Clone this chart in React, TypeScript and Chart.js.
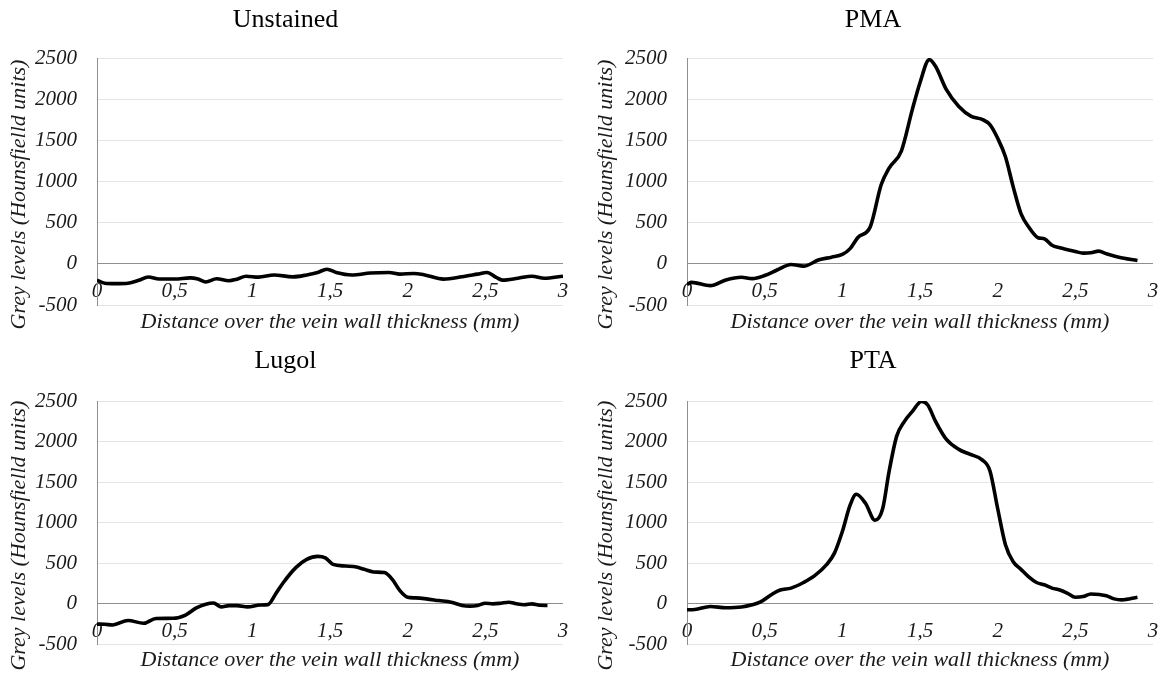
import React, { useEffect, useRef } from 'react';
import { Chart, registerables } from 'chart.js';

Chart.register(...registerables);

// ---------- DATA ----------
const xTickLabels = ['0', '0,5', '1', '1,5', '2', '2,5', '3'];
const yTickLabels = ['-500', '0', '500', '1000', '1500', '2000', '2500'];
const xAxisTitle = 'Distance over the vein wall thickness (mm)';
const yAxisTitle = 'Grey levels (Hounsfielld units)';

const unstainedX = [0, 0.05, 0.12, 0.2, 0.27, 0.33, 0.4, 0.5, 0.6, 0.65, 0.7, 0.77, 0.85, 0.9, 0.96, 1.04, 1.14, 1.26, 1.35, 1.42, 1.48, 1.54, 1.64, 1.76, 1.88, 1.95, 2.04, 2.11, 2.23, 2.35, 2.45, 2.51, 2.57, 2.61, 2.71, 2.8, 2.88, 3.0];
const unstainedY = [-200, -235, -240, -235, -200, -160, -185, -185, -170, -185, -220, -182, -205, -186, -150, -162, -135, -158, -135, -105, -65, -105, -135, -112, -105, -125, -117, -135, -186, -158, -125, -105, -165, -198, -175, -150, -175, -150];

const pmaX = [0, 0.03, 0.15, 0.25, 0.35, 0.42, 0.5, 0.58, 0.67, 0.75, 0.85, 0.93, 1.0, 1.05, 1.1, 1.18, 1.25, 1.3, 1.38, 1.45, 1.5, 1.56, 1.6, 1.67, 1.75, 1.83, 1.9, 1.95, 2.0, 2.05, 2.1, 2.15, 2.2, 2.26, 2.3, 2.35, 2.4, 2.45, 2.5, 2.55, 2.6, 2.65, 2.7, 2.78, 2.9];
const pmaY = [-250, -225, -265, -195, -163, -180, -142, -75, -8, -28, 49, 81, 114, 185, 320, 450, 960, 1160, 1370, 1870, 2200, 2480, 2400, 2115, 1910, 1790, 1755, 1690, 1525, 1300, 935, 610, 447, 317, 305, 225, 195, 172, 150, 130, 134, 154, 122, 81, 41];

const lugolX = [0, 0.05, 0.1, 0.2, 0.3, 0.38, 0.49, 0.57, 0.64, 0.7, 0.75, 0.8, 0.85, 0.9, 0.97, 1.05, 1.1, 1.15, 1.2, 1.28, 1.35, 1.42, 1.47, 1.52, 1.6, 1.67, 1.72, 1.78, 1.85, 1.9, 1.95, 2.0, 2.05, 2.12, 2.2, 2.28, 2.35, 2.4, 2.45, 2.5, 2.55, 2.6, 2.65, 2.7, 2.75, 2.8, 2.85, 2.9];
const lugolY = [-250, -252, -260, -205, -240, -180, -178, -138, -50, -5, 10, -38, -22, -22, -38, -15, -10, 122, 263, 446, 547, 585, 567, 486, 466, 454, 425, 393, 385, 304, 162, 81, 73, 61, 40, 20, -20, -28, -20, 8, 0, 8, 20, 0, -12, 0, -18, -20];

const ptaX = [0, 0.05, 0.15, 0.25, 0.35, 0.42, 0.47, 0.55, 0.6, 0.67, 0.75, 0.82, 0.9, 0.95, 1.0, 1.05, 1.09, 1.15, 1.21, 1.26, 1.3, 1.35, 1.4, 1.45, 1.51, 1.55, 1.6, 1.67, 1.75, 1.82, 1.9, 1.95, 2.0, 2.05, 2.1, 2.15, 2.2, 2.25, 2.3, 2.35, 2.4, 2.45, 2.5, 2.55, 2.6, 2.7, 2.75, 2.8, 2.9];
const ptaY = [-73, -70, -32, -49, -40, -12, 20, 122, 170, 194, 263, 344, 486, 628, 891, 1216, 1350, 1236, 1030, 1175, 1621, 2067, 2249, 2370, 2495, 2451, 2249, 2026, 1904, 1844, 1775, 1641, 1175, 729, 519, 425, 332, 263, 235, 194, 170, 130, 81, 89, 122, 101, 61, 49, 81];

// ---------- STYLE ----------
const FONT = '"Liberation Serif", "Times New Roman", serif';
const TEXT = '#1a1a1a';
const AXIS_GREY = '#8f8f8f';
const GRID_GREY = '#e4e4e4';

const yTitlePlugin = {
  id: 'yTitle',
  afterDraw(chart: any, _args: any, opts: any) {
    const { ctx, chartArea } = chart;
    ctx.save();
    ctx.translate(opts.x, (chartArea.top + chartArea.bottom) / 2 + opts.dy);
    ctx.rotate(-Math.PI / 2);
    ctx.font = `italic 22px ${FONT}`;
    ctx.fillStyle = TEXT;
    ctx.textAlign = 'center';
    ctx.textBaseline = 'middle';
    ctx.fillText(opts.text, 0, 0);
    ctx.restore();
  },
};

type PanelProps = {
  title: string;
  xs: number[];
  ys: number[];
  left: number;
  top: number;
  width: number;
  height: number;
  padLeft: number;
  yAxisWidth: number;
  padRight: number;
  titlePadTop: number;
  titlePadBottom: number;
  xTitleHeight: number;
  xTitlePadBottom: number;
  yTitleX: number;
};

function Panel(p: PanelProps) {
  const ref = useRef<HTMLCanvasElement>(null);
  useEffect(() => {
    if (!ref.current) return;
    const data = p.xs.map((x, i) => ({ x, y: p.ys[i] }));
    const chart = new Chart(ref.current, {
      type: 'line',
      data: {
        datasets: [
          {
            data,
            borderColor: '#000',
            borderWidth: 3.6,
            pointRadius: 0,
            fill: false,
            cubicInterpolationMode: 'monotone',
          },
        ],
      },
      options: {
        animation: false,
        responsive: false,
        devicePixelRatio: 1,
        layout: { padding: { left: p.padLeft, right: p.padRight, top: 0, bottom: 0 } },
        plugins: {
          legend: { display: false },
          tooltip: { enabled: false },
          title: {
            display: true,
            text: p.title,
            color: '#000',
            font: { family: FONT, size: 26, weight: 'normal' },
            padding: { top: p.titlePadTop, bottom: p.titlePadBottom },
          },
          yTitle: { x: p.yTitleX, dy: 13, text: yAxisTitle },
        } as any,
        scales: {
          x: {
            type: 'linear',
            position: { y: 0 } as any,
            min: 0,
            max: 3,
            grid: {
              display: true,
              drawOnChartArea: false,
              drawTicks: true,
              tickLength: 15,
              tickColor: 'rgba(0,0,0,0)',
            },
            border: { display: false },
            ticks: {
              stepSize: 0.5,
              padding: 0,
              maxRotation: 0,
              autoSkip: false,
              color: TEXT,
              font: { family: FONT, size: 21, style: 'italic' },
              callback: (_v: any, i: number) => xTickLabels[i],
            },
          },
          xt: {
            type: 'linear',
            position: 'bottom',
            min: 0,
            max: 3,
            ticks: { display: false },
            grid: { display: false, drawTicks: false },
            border: { display: false },
            title: {
              display: true,
              text: xAxisTitle,
              color: TEXT,
              font: { family: FONT, size: 22, style: 'italic' },
              padding: { top: 0, bottom: p.xTitlePadBottom },
            },
            afterFit: (s: any) => {
              s.height = p.xTitleHeight;
            },
          },
          y: {
            type: 'linear',
            position: 'left',
            min: -500,
            max: 2500,
            grid: {
              drawTicks: false,
              lineWidth: 1,
              color: (c: any) => (c.tick && c.tick.value === 0 ? AXIS_GREY : GRID_GREY),
            },
            border: { display: true, color: AXIS_GREY, width: 1 },
            ticks: {
              stepSize: 500,
              padding: 20,
              color: TEXT,
              font: { family: FONT, size: 21, style: 'italic' },
              callback: (_v: any, i: number) => yTickLabels[i],
            },
            afterFit: (s: any) => {
              s.width = p.yAxisWidth;
            },
          },
        } as any,
      },
      plugins: [yTitlePlugin as any],
    });
    return () => chart.destroy();
  }, []);
  return (
    <canvas
      ref={ref}
      width={p.width}
      height={p.height}
      style={{ position: 'absolute', left: p.left, top: p.top, display: 'block' }}
    />
  );
}

export default function App() {
  return (
    <div
      style={{
        position: 'absolute',
        left: 0,
        top: 0,
        width: 1165,
        height: 677,
        background: '#fff',
        overflow: 'hidden',
      }}
    >
      <Panel title="Unstained" xs={unstainedX} ys={unstainedY} left={0} top={0} width={580} height={340}
        padLeft={8} yAxisWidth={89} padRight={17} titlePadTop={4.4} titlePadBottom={22.4} xTitleHeight={35} xTitlePadBottom={4.8} yTitleX={19} />
      <Panel title="PMA" xs={pmaX} ys={pmaY} left={580} top={0} width={585} height={340}
        padLeft={13} yAxisWidth={94} padRight={12} titlePadTop={4.4} titlePadBottom={22.4} xTitleHeight={35} xTitlePadBottom={4.8} yTitleX={26} />
      <Panel title="Lugol" xs={lugolX} ys={lugolY} left={0} top={340} width={580} height={337}
        padLeft={8} yAxisWidth={89} padRight={17} titlePadTop={5.4} titlePadBottom={24.4} xTitleHeight={29} xTitlePadBottom={0} yTitleX={19} />
      <Panel title="PTA" xs={ptaX} ys={ptaY} left={580} top={340} width={585} height={337}
        padLeft={13} yAxisWidth={94} padRight={12} titlePadTop={5.4} titlePadBottom={24.4} xTitleHeight={29} xTitlePadBottom={0} yTitleX={26} />
    </div>
  );
}
